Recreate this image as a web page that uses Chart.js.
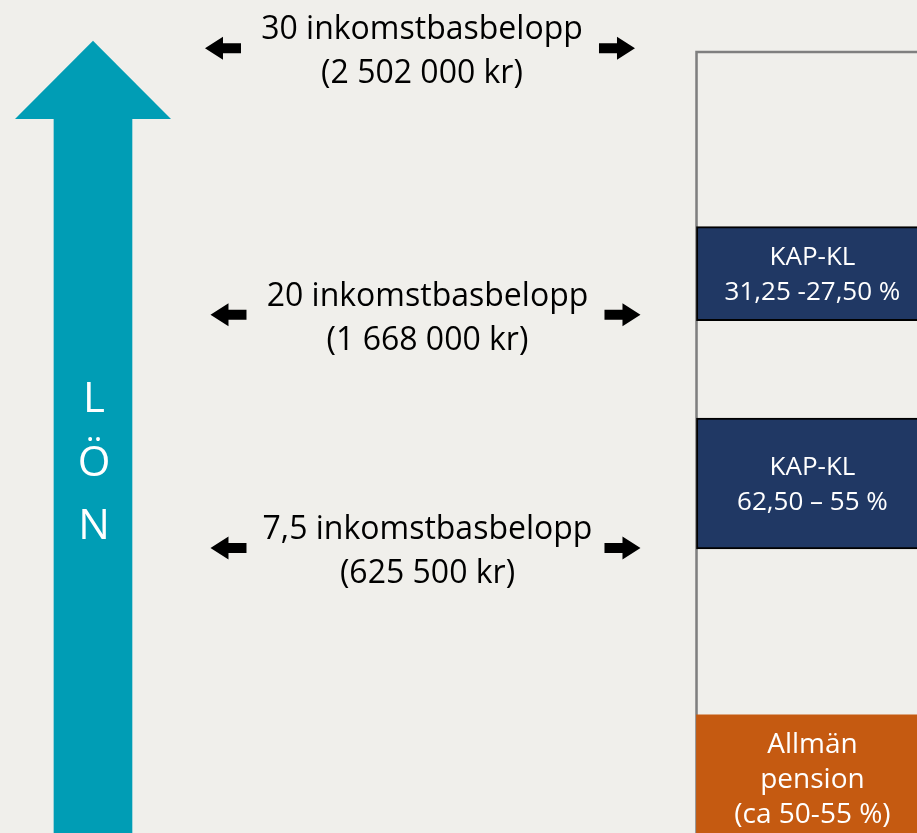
<!DOCTYPE html>
<html lang="sv">
<head>
<meta charset="utf-8">
<title>Lön och pension</title>
<script src="https://cdn.jsdelivr.net/npm/chart.js@4.4.1/dist/chart.umd.min.js"></script>
<style>
    html, body { margin: 0; padding: 0; background: #f0efeb; }
    #wrap { width: 917px; height: 833px; position: relative; }
</style>
</head>
<body>
<div id="wrap"><canvas id="LonPension"></canvas></div>
<script>
// schematic diagram, both axes run 0-100 (hidden)
const ibbLevels = ["30 inkomstbasbelopp", "20 inkomstbasbelopp", "7,5 inkomstbasbelopp"];
const ibbAmounts = ["(2 502 000 kr)", "(1 668 000 kr)", "(625 500 kr)"];
const levelHeights = [94.2, 62.2, 34.2];
const levelCenters = [45.8, 46.4, 46.4];

const boxLabels = [["Allmän", "pension", "(ca 50-55 %)"], ["KAP-KL", "62,50 – 55 %"], ["KAP-KL", "31,25 -27,50 %"]];
const boxRanges = [[-1, 14.2], [34.1, 49.8], [61.5, 72.8]];
const boxColors = ["#c55a11", "#203864", "#203864"];
const columnX = 88.6;
const columnTop = 93.9;

const lonLetters = ["L", "Ö", "N"];
const lonX = 10.14;
const lonShaftTop = 85.7;
const lonTip = 95.1;

function smallArrow(ctx, tipX, y, dir) {
    // dir -1 = pointing left, 1 = pointing right
    ctx.beginPath();
    ctx.moveTo(tipX, y);
    ctx.lineTo(tipX - dir * 18, y - 11.5);
    ctx.lineTo(tipX - dir * 18, y - 5);
    ctx.lineTo(tipX - dir * 36, y - 5);
    ctx.lineTo(tipX - dir * 36, y + 5);
    ctx.lineTo(tipX - dir * 18, y + 5);
    ctx.lineTo(tipX - dir * 18, y + 11.5);
    ctx.closePath();
    ctx.fill();
}

const diagramText = {
    id: "diagramText",
    afterDatasetsDraw(chart) {
        const ctx = chart.ctx;
        const x = chart.scales.x;
        const y = chart.scales.y;
        ctx.save();

        // head of the big arrow
        const cx = x.getPixelForValue(lonX);
        ctx.fillStyle = "#009db5";
        ctx.beginPath();
        ctx.moveTo(cx - 78, y.getPixelForValue(lonShaftTop));
        ctx.lineTo(cx, y.getPixelForValue(lonTip));
        ctx.lineTo(cx + 78, y.getPixelForValue(lonShaftTop));
        ctx.closePath();
        ctx.fill();

        ctx.fillStyle = "#ffffff";
        ctx.textAlign = "center";
        ctx.textBaseline = "alphabetic";
        ctx.font = "42px 'Open Sans'";
        lonLetters.forEach((ch, i) => {
            ctx.fillText(ch, cx + 1, 412 + i * 63.5);
        });

        // income levels
        ctx.font = "32px 'Open Sans'";
        levelHeights.forEach((h, i) => {
            const py = y.getPixelForValue(h);
            const px = x.getPixelForValue(levelCenters[i]);
            ctx.fillStyle = "#000000";
            ctx.fillText(ibbLevels[i], px + 2, py - 9);
            ctx.fillText(ibbAmounts[i], px + 2, py + 35);
            smallArrow(ctx, px - 215, py, -1);
            smallArrow(ctx, px + 215, py, 1);
        });

        // box texts
        const bx = x.getPixelForValue(columnX);
        boxRanges.forEach((r, i) => {
            const top = y.getPixelForValue(r[1]);
            const bottom = y.getPixelForValue(r[0]);
            const mid = (top + bottom) / 2;
            const lines = boxLabels[i];
            const orange = lines.length > 2;
            ctx.font = orange ? "28px 'Open Sans'" : "26px 'Open Sans'";
            ctx.fillStyle = "#ffffff";
            lines.forEach((t, j) => {
                ctx.fillText(t, bx, mid + (j - (lines.length - 1) / 2) * 35 + (orange ? 10 : 9));
            });
        });
        ctx.restore();
    },
};

function LonPensionChart() {
    const ctx = document.getElementById("LonPension");

    new Chart(ctx, {
        type: "bar",
        data: {
            datasets: [
                {
                    label: "Pension",
                    data: boxRanges.map((r) => ({ x: columnX, y: r })),
                    backgroundColor: boxColors,
                    borderColor: "#000000",
                    borderWidth: boxColors.map((c) => (c === "#203864" ? 2 : 0)),
                    borderSkipped: false,
                    barThickness: 232,
                    grouped: false,
                    order: 1,
                },
                {
                    label: "Kolumn",
                    data: [{ x: columnX, y: [0, columnTop] }],
                    backgroundColor: "rgba(0,0,0,0)",
                    borderColor: "#7f7f7f",
                    borderWidth: { top: 2, left: 2, right: 2, bottom: 0 },
                    borderSkipped: false,
                    barThickness: 234,
                    grouped: false,
                    order: 2,
                },
                {
                    label: "Lön",
                    data: [{ x: lonX, y: [0, lonShaftTop] }],
                    backgroundColor: "#009db5",
                    borderWidth: 0,
                    barThickness: 78,
                    grouped: false,
                    order: 3,
                },
            ],
        },
        options: {
            responsive: true,
            maintainAspectRatio: false,
            animation: false,
            events: [],
            layout: {
                padding: 0,
            },
            scales: {
                x: {
                    type: "linear",
                    min: 0,
                    max: 100,
                    offset: false,
                    display: false,
                },
                y: {
                    min: 0,
                    max: 100,
                    display: false,
                },
            },
            plugins: {
                legend: { display: false },
                tooltip: { enabled: false },
            },
        },
        plugins: [diagramText],
    });
}

LonPensionChart()
</script>
</body>
</html>
